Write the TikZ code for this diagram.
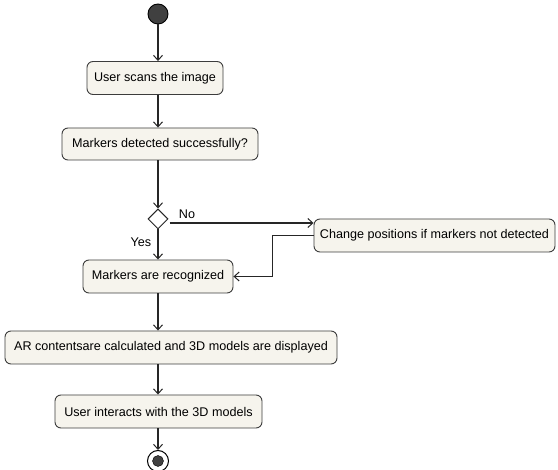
\documentclass[tikz,border=0pt]{standalone}
\usepackage{fontspec}
\setmainfont{Liberation Sans}
\usetikzlibrary{arrows.meta,shapes.geometric,calc}
\definecolor{actfill}{RGB}{246,244,237}
\definecolor{actline}{RGB}{60,60,60}
\definecolor{dotfill}{RGB}{64,64,64}
\tikzset{
  activity/.style={draw=actline, line width=0.9pt, fill=actfill, rounded corners=6pt,
    minimum height=33pt, inner sep=2pt, font=\fontsize{12.6}{14}\selectfont},
  flow/.style={draw=black!85, line width=1.6pt, -{Straight Barb[length=5pt,width=9pt,line width=1pt]}},
  branch/.style={diamond, draw=black!85, line width=1pt, fill=white, minimum width=20pt, minimum height=20pt, inner sep=0pt},
  guard/.style={font=\fontsize{12.6}{14}\selectfont}
}
\begin{document}
\begin{tikzpicture}[x=1pt,y=-1pt]
\useasboundingbox (0,0) rectangle (558,470);

% start and end states
\node[circle, draw=black, line width=0.9pt, fill=dotfill, minimum size=20pt, inner sep=0pt] (start) at (158,14) {};
\node[circle, draw=black, line width=1pt, fill=white, minimum size=21pt, inner sep=0pt] (stop) at (158,461) {};
\node[circle, fill=dotfill, draw=black, minimum size=11pt, inner sep=0pt] (stopcore) at (158,461) {};

% activities
\node[activity, minimum width=136pt] (scan) at (155,78) {User scans the image};
\node[activity, minimum width=196pt, minimum height=32pt] (detect) at (160,144) {Markers detected successfully?};
\node[branch] (dec) at (158,219) {};
\node[activity, minimum width=241pt] (change) at (434.5,235.5) {Change positions if markers not detected};
\node[activity, minimum width=150pt] (recog) at (158,276.5) {Markers are recognized};
\node[activity, minimum width=332pt] (calc) at (171,347.5) {AR contentsare calculated and 3D models are displayed};
\node[activity, minimum width=207pt] (interact) at (158.5,411.5) {User interacts with the 3D models};

% guard labels
\node[guard] (nolbl) at (187,214) {No};
\node[guard] (yeslbl) at (141,242) {Yes};

% control flow
\coordinate (noexit) at ($(dec.east)+(1,4)$);
\draw[flow] (start) -- (start |- scan.north);
\draw[flow] (scan.south -| start) -- (detect.north -| start);
\draw[flow] (detect.south -| start) -- (dec.north);
\draw[flow] (noexit) -- (noexit -| change.west);
\draw[flow] (dec.south) -- (recog.north -| dec);
\draw[flow] (change.west) -- ++(-41,0) |- (recog.east);
\draw[flow] (recog.south -| start) -- (calc.north -| start);
\draw[flow] (calc.south -| start) -- (interact.north -| start);
\draw[flow] (interact.south -| start) -- (stop.north);
\end{tikzpicture}
\end{document}
